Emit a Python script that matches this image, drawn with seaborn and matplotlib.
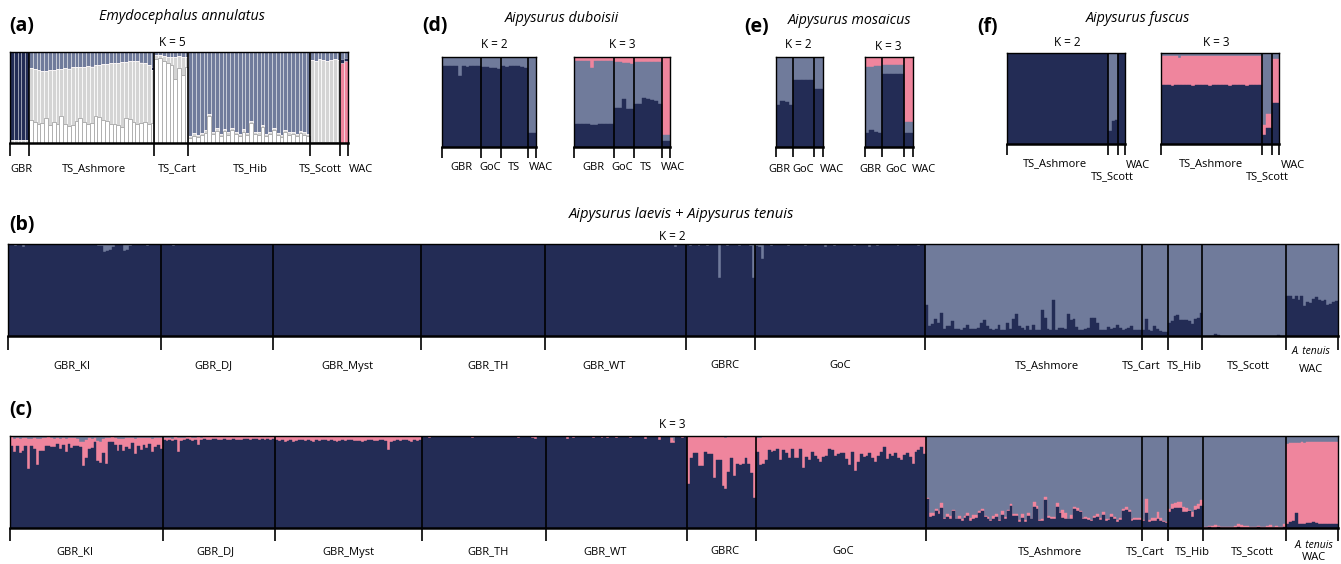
import numpy as np
import matplotlib
matplotlib.use("Agg")
import matplotlib.pyplot as plt
import seaborn as sns

# ---------------- colours ----------------
NAVY = "#232c55"
SLATE = "#707b9b"
PINK = "#ef859d"
LGREY = "#d4d4d4"
WHITE = "#ffffff"

# ---------------- data (percent ancestry per individual) ----------------
# (a) Emydocephalus annulatus, K = 5 ; layers bottom->top: white, grey, pink, navy, slate(remainder)
a_pops = ["GBR", "TS_Ashmore", "TS_Cart", "TS_Hib", "TS_Scott", "WAC"]
a_white = [
    [0, 0, 0, 0, 0],
    [25, 23, 21, 22, 27, 20, 23, 21, 30, 21, 19, 20, 24, 28, 23, 21, 22, 30, 29, 25,
     24, 21, 21, 20, 18, 28, 26, 23, 21, 22, 23, 21, 22],
    [92, 93, 90, 88, 86, 70, 82, 75, 84],
    [6, 8, 7, 9, 11, 30, 10, 13, 8, 13, 9, 14, 10, 8, 12, 9, 22, 10, 9, 18,
     8, 10, 14, 9, 7, 12, 9, 10, 8, 11, 9, 8],
    [1, 1, 1, 1, 1, 1, 1, 1],
    [0, 0],
]
a_grey = [
    [3, 3, 3, 3, 3],
    [57, 58, 59, 57, 52, 60, 57, 60, 51, 61, 62, 63, 59, 56, 61, 64, 62, 56, 57, 62,
     63, 67, 67, 68, 71, 61, 64, 67, 69, 66, 65, 65, 58],
    [5, 4, 6, 7, 9, 25, 14, 19, 11],
    [2, 3, 2, 2, 3, 2, 2, 3, 2, 2, 3, 2, 2, 2, 3, 2, 2, 2, 3, 2,
     2, 2, 3, 2, 2, 2, 3, 2, 2, 2, 3, 2],
    [90, 89, 91, 90, 89, 90, 91, 90],
    [0, 0],
]
a_pink = [
    [0, 0, 0, 0, 0],
    [0, 0, 0, 0, 0, 0, 0, 0, 0, 0, 0, 0, 0, 0, 0, 0, 0, 0, 0, 0,
     0, 0, 0, 0, 0, 0, 0, 0, 0, 0, 0, 0, 0],
    [0, 0, 0, 0, 0, 0, 0, 0, 0],
    [0, 0, 0, 0, 0, 0, 0, 0, 0, 0, 0, 0, 0, 0, 0, 0, 0, 0, 0, 0,
     0, 0, 0, 0, 0, 0, 0, 0, 0, 0, 0, 0],
    [0, 0, 0, 0, 0, 0, 0, 0],
    [88, 90],
]
a_navy = [
    [97, 97, 97, 97, 97],
    [0, 0, 0, 0, 0, 0, 0, 0, 0, 0, 1, 0, 0, 0, 0, 0, 1, 0, 0, 0,
     0, 0, 0, 0, 0, 0, 0, 0, 0, 1, 0, 0, 4],
    [0, 0, 0, 0, 0, 0, 0, 0, 0],
    [0, 0, 0, 0, 0, 0, 0, 0, 0, 0, 0, 0, 0, 0, 0, 0, 0, 0, 0, 0,
     0, 0, 0, 0, 0, 0, 0, 0, 0, 0, 0, 0],
    [0, 0, 0, 0, 0, 0, 0, 0],
    [4, 3],
]

# (d) Aipysurus duboisii
d_pops = ["GBR", "GoC", "TS", "WAC"]
d2_navy = [[90, 90, 90, 90, 79, 90, 89, 90, 90, 90], [89, 89, 88, 88, 87],
           [90, 89, 90, 90, 90, 89, 88], [16, 16]]
d3_navy = [[26, 26, 26, 26, 25, 25, 26, 26, 26, 26], [43, 43, 53, 42, 42],
           [48, 48, 55, 53, 52, 51, 48], [7, 7]]
d3_pink = [[4, 4, 4, 4, 12, 4, 4, 4, 4, 4], [5, 6, 7, 7, 8],
           [5, 5, 5, 5, 5, 5, 6], [87, 87]]

# (e) Aipysurus mosaicus
e_pops = ["GBR", "GoC", "WAC"]
e2_navy = [[47, 51, 50, 47], [75, 75, 75, 75, 75], [65, 65]]
e3_navy = [[16, 19, 17, 16], [81, 81, 81, 81, 81], [16, 16]]
e3_pink = [[11, 11, 10, 10], [9, 9, 9, 9, 9], [72, 72]]

# (f) Aipysurus fuscus
f_pops = ["TS_Ashmore", "TS_Scott", "WAC"]
f2_navy = [[100, 100, 100, 100, 100, 99, 100, 100, 100, 100, 100, 100, 100, 100, 100,
            100, 100, 100, 100, 100, 100, 100, 100, 100, 100, 100, 100, 100, 100, 100],
           [14, 25, 26], [99, 99]]
f3_navy = [[65, 65, 65, 64, 65, 65, 65, 65, 65, 64, 65, 65, 65, 65, 64,
            65, 65, 65, 65, 65, 64, 65, 65, 65, 65, 64, 65, 65, 65, 65],
           [10, 18, 18], [45, 45]]
f3_pink = [[32, 32, 32, 33, 32, 30, 32, 32, 32, 33, 32, 32, 32, 32, 33,
            32, 32, 32, 32, 32, 33, 32, 32, 32, 32, 33, 32, 32, 32, 32],
           [11, 15, 15], [48, 48]]

# (b)/(c) Aipysurus laevis + A. tenuis
bc_pops = ["GBR_KI", "GBR_DJ", "GBR_Myst", "GBR_TH", "GBR_WT", "GBRC", "GoC",
           "TS_Ashmore", "TS_Cart", "TS_Hib", "TS_Scott", "WAC"]
b_dark = [
    [99, 99, 98, 100, 100, 97, 100, 99, 100, 100, 100, 100, 99, 100, 100, 100, 99, 100, 100, 100,
     99, 100, 100, 100, 100, 100, 99, 100, 100, 100, 100, 98, 98, 91, 92, 93, 97, 100, 100, 99,
     92, 93, 98, 100, 100, 100, 99, 100, 98, 100, 100, 99, 100],
    [100, 99, 99, 100, 98, 100, 100, 99, 100, 100, 99, 100, 100, 100, 99, 100, 100, 99, 100, 100,
     100, 100, 99, 100, 100, 100, 100, 100, 99, 100, 100, 100, 100, 100, 100, 100, 100, 100, 100],
    [100, 99, 100, 100, 99, 100, 100, 99, 99, 100, 100, 100, 99, 100, 100, 100, 100, 100, 100, 100,
     100, 100, 99, 100, 100, 100, 100, 100, 99, 99, 100, 100, 100, 100, 100, 99, 100, 100, 100, 100,
     100, 100, 100, 100, 100, 100, 100, 100, 100, 100, 100],
    [100, 100, 100, 100, 99, 100, 100, 100, 100, 100, 100, 100, 100, 100, 100, 100, 100, 100, 100, 100,
     100, 100, 100, 100, 100, 100, 100, 100, 100, 100, 100, 100, 100, 100, 100, 100, 100, 100, 100, 99,
     100, 100, 100],
    [100, 100, 100, 100, 100, 100, 100, 100, 100, 99, 100, 100, 100, 100, 100, 100, 100, 100, 100, 100,
     100, 100, 100, 100, 100, 100, 100, 100, 100, 100, 100, 100, 100, 100, 100, 100, 100, 100, 100, 100,
     100, 100, 100, 100, 100, 97, 100, 100, 99],
    [99, 98, 99, 99, 98, 99, 99, 98, 99, 99, 99, 63, 99, 99, 98, 99, 99, 99, 98, 99, 99, 99, 98, 63],
    [98, 97, 84, 99, 99, 98, 99, 99, 100, 99, 99, 98, 99, 99, 100, 99, 99, 98, 99, 99,
     99, 100, 99, 99, 97, 99, 99, 98, 99, 99, 100, 99, 99, 99, 98, 99, 99, 99, 100, 97,
     99, 99, 98, 99, 99, 99, 100, 99, 99, 98, 99, 99, 99, 100, 99, 99, 98, 99, 99],
    [34, 11, 13, 18, 14, 25, 8, 11, 11, 16, 8, 8, 7, 9, 12, 8, 8, 8, 9, 14,
     17, 11, 8, 7, 8, 12, 7, 7, 14, 8, 18, 24, 11, 9, 6, 11, 6, 12, 6, 7,
     28, 20, 8, 7, 39, 7, 9, 9, 8, 24, 17, 18, 10, 7, 7, 8, 9, 20, 20, 14,
     6, 6, 6, 10, 8, 9, 12, 9, 7, 8, 9, 11, 7, 6, 6],
    [6, 18, 6, 5, 11, 8, 5, 4, 4],
    [14, 16, 22, 23, 17, 17, 17, 16, 13, 18, 20, 25],
    [0, 0, 0, 0, 2, 1, 0, 0, 0, 0, 0, 0, 0, 0, 0, 0, 0, 0, 0, 0, 0, 0, 0, 0, 0, 0, 1, 0, 0],
    [43, 44, 40, 44, 39, 43, 33, 37, 36, 40, 42, 39, 38, 39, 34, 35, 37, 38],
]
c_navy = [
    [89, 83, 89, 81, 84, 89, 64, 89, 86, 69, 84, 84, 89, 89, 88, 88, 91, 86, 90, 83,
     91, 87, 89, 89, 88, 67, 76, 86, 87, 93, 73, 71, 82, 70, 93, 93, 90, 84, 90, 84,
     88, 86, 92, 80, 89, 85, 90, 87, 91, 83, 88, 90, 86],
    [96, 95, 96, 95, 96, 83, 95, 96, 97, 96, 95, 96, 90, 96, 97, 96, 96, 97, 97, 96,
     96, 97, 96, 96, 97, 96, 96, 96, 97, 97, 96, 97, 97, 96, 97, 96, 97, 96, 97],
    [96, 95, 96, 94, 95, 96, 94, 95, 96, 96, 95, 96, 95, 94, 96, 95, 96, 96, 95, 96,
     95, 94, 95, 96, 95, 96, 96, 95, 95, 95, 94, 95, 96, 96, 95, 95, 96, 96, 95, 85,
     94, 95, 96, 95, 96, 96, 95, 94, 96, 95, 96],
    [99, 99, 98, 99, 99, 99, 99, 99, 99, 99, 99, 99, 99, 99, 99, 99, 99, 98, 99, 99,
     99, 99, 99, 99, 99, 99, 99, 99, 99, 99, 99, 99, 99, 98, 99, 99, 99, 99, 98, 97,
     99, 99, 99],
    [99, 99, 99, 99, 99, 99, 99, 97, 99, 98, 99, 99, 99, 99, 99, 99, 98, 99, 99, 98,
     99, 98, 99, 99, 98, 99, 99, 99, 99, 98, 99, 99, 99, 99, 97, 99, 99, 99, 99, 96,
     99, 99, 99, 92, 92, 99, 99, 98, 99],
    [48, 76, 82, 82, 67, 67, 83, 80, 80, 54, 74, 74, 46, 42, 61, 76, 56, 70, 69, 70,
     76, 70, 60, 33],
    [83, 69, 70, 74, 85, 83, 84, 86, 74, 85, 81, 76, 86, 76, 76, 86, 65, 77, 74, 83,
     78, 75, 72, 77, 78, 86, 85, 78, 80, 81, 81, 75, 69, 83, 62, 72, 80, 77, 78, 81,
     76, 72, 78, 83, 88, 75, 80, 78, 82, 76, 74, 79, 81, 77, 70, 83, 85, 88, 80],
    [31, 12, 13, 19, 15, 22, 10, 12, 10, 18, 10, 10, 8, 11, 13, 8, 10, 11, 16, 19,
     12, 10, 8, 10, 12, 8, 14, 10, 19, 24, 13, 13, 7, 11, 7, 13, 10, 23, 21, 8,
     8, 30, 11, 10, 10, 23, 16, 11, 10, 10, 10, 21, 19, 17, 10, 10, 9, 8, 11, 12,
     9, 14, 8, 9, 12, 10, 7, 9, 18, 20, 17, 8, 9, 9, 9],
    [8, 16, 7, 8, 8, 10, 8, 6, 5],
    [17, 21, 22, 22, 22, 17, 17, 18, 12, 20, 21, 24],
    [0, 0, 1, 0, 0, 1, 0, 0, 0, 0, 0, 0, 1, 0, 0, 0, 0, 0, 0, 1, 0, 0, 0, 0, 0, 0, 0, 0, 1],
    [4, 6, 8, 16, 4, 4, 4, 5, 5, 6, 5, 4, 4, 4, 4, 4, 4, 4],
]
c_pink = [
    [10, 14, 9, 16, 14, 9, 33, 8, 12, 28, 13, 14, 9, 10, 10, 9, 7, 11, 8, 14,
     7, 11, 9, 8, 6, 27, 20, 12, 10, 5, 22, 23, 15, 28, 5, 6, 8, 13, 7, 13,
     10, 12, 6, 17, 9, 13, 8, 11, 7, 14, 10, 8, 12],
    [2, 3, 2, 2, 3, 15, 3, 2, 2, 3, 3, 2, 9, 2, 2, 3, 3, 2, 2, 3,
     3, 2, 3, 3, 2, 3, 3, 3, 2, 2, 3, 2, 2, 3, 2, 3, 2, 3, 2],
    [3, 4, 3, 5, 4, 3, 5, 4, 3, 3, 4, 3, 4, 5, 3, 4, 3, 3, 4, 3,
     4, 5, 4, 3, 4, 3, 3, 4, 4, 4, 5, 4, 3, 3, 4, 4, 3, 3, 4, 14,
     5, 4, 3, 4, 3, 3, 4, 5, 3, 4, 3],
    [1, 1, 1, 1, 1, 1, 1, 1, 1, 1, 1, 1, 1, 1, 1, 1, 1, 1, 1, 1,
     1, 1, 1, 1, 1, 1, 1, 1, 1, 1, 1, 1, 1, 1, 1, 1, 1, 1, 1, 2,
     1, 1, 1],
    [1, 1, 1, 1, 1, 1, 1, 3, 1, 2, 1, 1, 1, 1, 1, 1, 2, 1, 1, 2,
     1, 2, 1, 1, 2, 1, 1, 1, 1, 2, 1, 1, 1, 1, 3, 1, 1, 1, 1, 4,
     1, 1, 1, 6, 3, 1, 1, 2, 1],
    [52, 24, 18, 18, 33, 33, 17, 20, 20, 46, 26, 26, 54, 56, 39, 24, 44, 30, 31, 30,
     24, 30, 40, 67],
    [15, 29, 30, 26, 15, 17, 16, 14, 26, 15, 19, 24, 14, 24, 24, 14, 35, 23, 26, 17,
     22, 25, 28, 23, 22, 14, 15, 22, 20, 19, 19, 25, 31, 17, 38, 28, 20, 23, 22, 19,
     24, 28, 22, 17, 12, 25, 20, 22, 18, 24, 26, 21, 19, 23, 30, 17, 15, 12, 20],
    [2, 4, 3, 2, 3, 5, 1, 3, 3, 2, 0, 3, 2, 2, 3, 3, 4, 3, 2, 2,
     1, 2, 1, 3, 3, 1, 4, 2, 1, 2, 2, 2, 2, 4, 2, 3, 0, 5, 3, 1,
     2, 4, 2, 2, 2, 4, 1, 9, 6, 0, 4, 2, 3, 2, 1, 2, 2, 1, 2, 3,
     2, 3, 2, 1, 3, 2, 2, 2, 3, 3, 3, 2, 2, 2, 2],
    [1, 15, 2, 3, 3, 7, 3, 2, 2],
    [4, 5, 5, 6, 6, 6, 5, 2, 5, 4, 5, 6],
    [1, 1, 1, 2, 3, 1, 1, 1, 1, 1, 1, 2, 3, 3, 2, 2, 1, 1, 1, 1, 1, 1, 2, 3, 1, 2, 1, 1, 3],
    [87, 86, 84, 76, 88, 89, 88, 88, 88, 87, 88, 89, 89, 89, 90, 90, 90, 90],
]

# ---------------- figure ----------------
sns.set_theme(style="white")
plt.rcParams["font.family"] = ["Open Sans", "DejaVu Sans"]
plt.rcParams["text.color"] = "black"
W, H = 1341, 564
fig = plt.figure(figsize=(W / 100, H / 100), dpi=100)
fig.patch.set_facecolor("white")


def add_box(x0, y0, x1, y1):
    return fig.add_axes([x0 / W, 1 - y1 / H, (x1 - x0) / W, (y1 - y0) / H])


def flat(nested):
    return np.concatenate([np.asarray(p, float) for p in nested])


def draw_structure(ax, comps, colors, box_h, tick_px, edges=None, lw=0.3):
    sizes = [len(p) for p in comps[0]]
    layers = [flat(c) / 100.0 for c in comps]
    layers.append(np.clip(1.0 - np.sum(layers, axis=0), 0, None))
    cum = np.cumsum(np.array(layers), axis=0)
    n = cum.shape[1]
    idx = np.arange(n)
    for k in range(len(colors) - 1, -1, -1):
        ec = edges[k] if edges is not None else colors[k]
        sns.barplot(x=idx, y=cum[k], ax=ax, color=colors[k], native_scale=True,
                    width=1.0, saturation=1, errorbar=None, linewidth=lw, edgecolor=ec)
    ax.set_xlim(-0.5, n - 0.5)
    ax.set_ylim(0, 1)
    ax.set_xticks([])
    ax.set_yticks([])
    ax.set_xlabel("")
    ax.set_ylabel("")
    for s in ax.spines.values():
        s.set_visible(True)
        s.set_color("black")
        s.set_linewidth(1.0)
    ax.spines["bottom"].set_linewidth(1.8)
    bounds = np.concatenate([[0], np.cumsum(sizes)]) - 0.5
    ybot = -tick_px / box_h
    for i, b in enumerate(bounds):
        top = 1 if 0 < i < len(bounds) - 1 else 0
        ax.plot([b, b], [ybot, top], color="black", lw=1.2, clip_on=False,
                solid_capstyle="butt", zorder=5)
    return ax


def ftext(x, y, s, **kw):
    kw.setdefault("ha", "center")
    kw.setdefault("va", "center")
    kw.setdefault("color", "black")
    fig.text(x / W, 1 - y / H, s, **kw)


LAB = 8
KSZ = 8.5
TSZ = 10.3
LET = 14

# ---- (a) ----
ax = add_box(10, 52, 348, 143)
draw_structure(ax, [a_white, a_grey, a_pink, a_navy],
               [WHITE, LGREY, PINK, NAVY, SLATE], 91, 13,
               edges=["#b0b0b0", (1, 1, 1, 0.75), (1, 1, 1, 0.5), (1, 1, 1, 0.35), (1, 1, 1, 0.4)],
               lw=0.7)
for x, s in zip([21, 94, 177, 250, 320, 361], a_pops):
    ftext(x, 169, s, fontsize=LAB)
ftext(182, 16, "Emydocephalus annulatus", fontsize=TSZ, style="italic")
ftext(172, 42, "K = 5", fontsize=KSZ)
ftext(9, 26, "(a)", fontsize=LET, fontweight="bold", ha="left")

# ---- (d) ----
ax = add_box(442, 57, 536, 147)
draw_structure(ax, [d2_navy], [NAVY, SLATE], 90, 11)
ax = add_box(574, 57, 670, 147)
draw_structure(ax, [d3_navy, [[100 - a - b for a, b in zip(p, q)] for p, q in zip(d3_navy, d3_pink)]],
               [NAVY, SLATE, PINK], 90, 11)
for x, s in zip([461, 490, 514, 541], d_pops):
    ftext(x, 168, s, fontsize=LAB)
for x, s in zip([593, 622, 646, 673], d_pops):
    ftext(x, 168, s, fontsize=LAB)
ftext(562, 19, "Aipysurus duboisii", fontsize=TSZ, style="italic")
ftext(494, 44, "K = 2", fontsize=KSZ)
ftext(622, 45, "K = 3", fontsize=KSZ)
ftext(422, 26, "(d)", fontsize=LET, fontweight="bold", ha="left")

# ---- (e) ----
ax = add_box(776, 57, 823, 147)
draw_structure(ax, [e2_navy], [NAVY, SLATE], 90, 10)
ax = add_box(865, 57, 913, 147)
draw_structure(ax, [e3_navy, [[100 - a - b for a, b in zip(p, q)] for p, q in zip(e3_navy, e3_pink)]],
               [NAVY, SLATE, PINK], 90, 10)
for x, s in zip([779, 803, 832], e_pops):
    ftext(x, 169, s, fontsize=LAB)
for x, s in zip([870, 896, 924], e_pops):
    ftext(x, 169, s, fontsize=LAB)
ftext(850, 21, "Aipysurus mosaicus", fontsize=TSZ, style="italic")
ftext(798, 45, "K = 2", fontsize=KSZ)
ftext(888, 47, "K = 3", fontsize=KSZ)
ftext(744, 27, "(e)", fontsize=LET, fontweight="bold", ha="left")

# ---- (f) ----
ax = add_box(1007, 53, 1125, 144)
draw_structure(ax, [f2_navy], [NAVY, SLATE], 91, 11)
ax = add_box(1161, 53, 1279, 144)
draw_structure(ax, [f3_navy, f3_pink], [NAVY, PINK, SLATE], 91, 11)
for (x, y), s in zip([(1055, 164), (1112, 177), (1138, 165)], f_pops):
    ftext(x, y, s, fontsize=LAB)
for (x, y), s in zip([(1211, 164), (1267, 177), (1293, 166)], f_pops):
    ftext(x, y, s, fontsize=LAB)
ftext(1138, 19, "Aipysurus fuscus", fontsize=TSZ, style="italic")
ftext(1067, 43, "K = 2", fontsize=KSZ)
ftext(1216, 43, "K = 3", fontsize=KSZ)
ftext(977, 27, "(f)", fontsize=LET, fontweight="bold", ha="left")

# ---- (b) ----
ax = add_box(8, 244, 1338, 336)
draw_structure(ax, [b_dark], [NAVY, SLATE], 92, 14)
bx = [72, 213, 347, 488, 604, 725, 840, 1047, 1141, 1184, 1248]
for x, s in zip(bx, bc_pops[:-1]):
    ftext(x, 366, s, fontsize=LAB)
ftext(1311, 352, "A. tenuis", fontsize=7.5, style="italic")
ftext(1311, 369, "WAC", fontsize=LAB)
ftext(682, 215, "Aipysurus laevis + Aipysurus tenuis", fontsize=10.6, style="italic")
ftext(672, 236, "K = 2", fontsize=KSZ)
ftext(9, 225, "(b)", fontsize=LET, fontweight="bold", ha="left")

# ---- (c) ----
ax = add_box(10, 436, 1338, 528)
draw_structure(ax, [c_navy, c_pink], [NAVY, PINK, SLATE], 92, 13)
cx = [75, 215, 348, 488, 605, 725, 843, 1050, 1145, 1192, 1252]
for x, s in zip(cx, bc_pops[:-1]):
    ftext(x, 552, s, fontsize=LAB)
ftext(1314, 545, "A. tenuis", fontsize=7.5, style="italic")
ftext(1314, 557, "WAC", fontsize=LAB)
ftext(672, 425, "K = 3", fontsize=KSZ)
ftext(9, 410, "(c)", fontsize=LET, fontweight="bold", ha="left")

fig.savefig("out.png", dpi=100, facecolor="white")
